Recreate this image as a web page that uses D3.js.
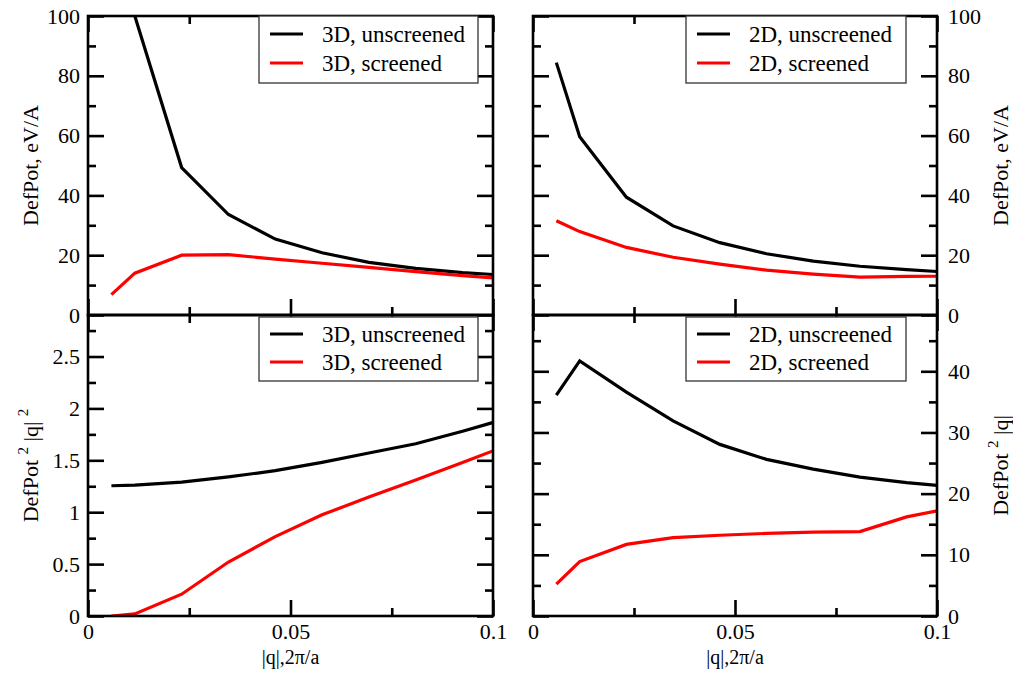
<!DOCTYPE html>
<html>
<head>
<meta charset="utf-8">
<script src="https://cdn.jsdelivr.net/npm/d3@7"></script>
<style>
  html, body { margin: 0; padding: 0; background: #fff; }
  svg { display: block; }
  text { font-family: "Liberation Serif", "Times New Roman", serif; fill: #000; }
</style>
</head>
<body>
<svg id="chart" width="1013" height="675"></svg>
<script>
// ---------------- data ----------------
const qValues = [0.00578, 0.01156, 0.02312, 0.03468, 0.04624, 0.0578, 0.06936, 0.08092, 0.09248, 0.10404];

const defPot3DUnscreened = [null, 100, 49.3, 33.6, 25.4, 20.8, 17.6, 15.6, 14.2, 13.2];
const defPot3DScreened   = [6.8, 14.0, 20.0, 20.2, 18.7, 17.3, 15.9, 14.5, 13.2, 12.0];
const defPot2DUnscreened = [84.4, 59.6, 39.4, 29.8, 24.2, 20.5, 18.0, 16.3, 15.2, 14.2];
const defPot2DScreened   = [31.5, 27.9, 22.6, 19.3, 17.0, 15.0, 13.7, 12.7, 12.9, 13.0];

const dp2q2_3DUnscreened = [1.255, 1.26, 1.29, 1.34, 1.40, 1.48, 1.57, 1.66, 1.78, 1.91];
const dp2q2_3DScreened   = [0.0, 0.02, 0.21, 0.52, 0.765, 0.975, 1.146, 1.31, 1.48, 1.65];
const dp2q_2DUnscreened  = [36.1, 41.7, 36.6, 31.9, 28.05, 25.6, 24.0, 22.7, 21.8, 21.1];
const dp2q_2DScreened    = [5.2, 8.9, 11.7, 12.8, 13.2, 13.5, 13.7, 13.8, 16.2, 17.7];

const xMajorTicks = [0, 0.05, 0.1];
const xMinorTicks = [0.025, 0.075];
const xTickLabels = ["0", "0.05", "0.1"];

const defPotMajorTicks = [0, 20, 40, 60, 80, 100];
const defPotMinorTicks = [10, 30, 50, 70, 90];
const defPotTickLabels = ["0", "20", "40", "60", "80", "100"];

const q2MajorTicks = [0, 0.5, 1, 1.5, 2, 2.5];
const q2MinorTicks = [0.25, 0.75, 1.25, 1.75, 2.25, 2.75];
const q2TickLabels = ["0", "0.5", "1", "1.5", "2", "2.5"];

const q1MajorTicks = [0, 10, 20, 30, 40];
const q1MinorTicks = [5, 15, 25, 35, 45];
const q1TickLabels = ["0", "10", "20", "30", "40"];

const legend3D = ["3D, unscreened", "3D, screened"];
const legend2D = ["2D, unscreened", "2D, screened"];
const seriesColors = ["#000000", "#ff0000"];

// ---------------- layout ----------------
const svg = d3.select("#chart");
svg.append("rect").attr("width", 1013).attr("height", 675).attr("fill", "#fff");

const LX = [88, 493], RX = [533, 937];
const TY = [16, 315], BY = [315, 616];

const panels = [
  { id: "tl", xr: LX, yr: TY, yDomain: [0, 100], yMaj: defPotMajorTicks, yMin: defPotMinorTicks, yLab: defPotTickLabels,
    side: "left", series: [defPot3DUnscreened, defPot3DScreened], legend: legend3D, xLabels: false,
    title: [["DefPot, eV/A", 0]], legendBox: [259, 16, 219, 67], legendRows: [34, 63] },
  { id: "tr", xr: RX, yr: TY, yDomain: [0, 100], yMaj: defPotMajorTicks, yMin: defPotMinorTicks, yLab: defPotTickLabels,
    side: "right", series: [defPot2DUnscreened, defPot2DScreened], legend: legend2D, xLabels: false,
    title: [["DefPot, eV/A", 0]], legendBox: [686, 16, 220, 67], legendRows: [34, 63] },
  { id: "bl", xr: LX, yr: BY, yDomain: [0, 2.9], yMaj: q2MajorTicks, yMin: q2MinorTicks, yLab: q2TickLabels,
    side: "left", series: [dp2q2_3DUnscreened, dp2q2_3DScreened], legend: legend3D, xLabels: true,
    title: [["DefPot ", 0], ["2", 1], [" |q| ", 0], ["2", 1]], legendBox: [259, 317, 219, 64], legendRows: [334, 362] },
  { id: "br", xr: RX, yr: BY, yDomain: [0, 49.2], yMaj: q1MajorTicks, yMin: q1MinorTicks, yLab: q1TickLabels,
    side: "right", series: [dp2q_2DUnscreened, dp2q_2DScreened], legend: legend2D, xLabels: true,
    title: [["DefPot ", 0], ["2", 1], [" |q|", 0]], legendBox: [686, 317, 220, 64], legendRows: [334, 362] }
];

const AXW = 2.6;
const MAJ = 16, MIN = 8;

panels.forEach(p => {
  const x = d3.scaleLinear().domain([0, 0.1]).range(p.xr);
  const y = d3.scaleLinear().domain(p.yDomain).range([p.yr[1], p.yr[0]]);
  const g = svg.append("g");

  svg.append("clipPath").attr("id", "clip-" + p.id)
    .append("rect").attr("x", p.xr[0]).attr("y", p.yr[0])
    .attr("width", p.xr[1] - p.xr[0]).attr("height", p.yr[1] - p.yr[0]);

  const line = d3.line()
    .defined(d => d[1] !== null)
    .x(d => x(d[0])).y(d => y(d[1]));
  p.series.forEach((s, i) => {
    g.append("path")
      .datum(qValues.map((q, k) => [q, s[k]]))
      .attr("clip-path", "url(#clip-" + p.id + ")")
      .attr("fill", "none")
      .attr("stroke", seriesColors[i])
      .attr("stroke-width", 3.2)
      .attr("d", line);
  });

  function styleAxis(sel, fontSize) {
    sel.select(".domain").remove();
    sel.attr("font-family", null);
    sel.selectAll(".tick line").attr("stroke", "#000").attr("stroke-width", AXW);
    sel.selectAll(".tick text").attr("font-size", fontSize).attr("fill", "#000");
  }

  const yLabelAxis = (p.side === "left" ? d3.axisLeft(y) : d3.axisRight(y))
    .tickValues(p.yMaj).tickSize(-MAJ).tickSizeOuter(0).tickPadding(p.side === "left" ? 8 : 11)
    .tickFormat((d, i) => p.yLab[i]);
  const yOtherAxis = (p.side === "left" ? d3.axisRight(y) : d3.axisLeft(y))
    .tickValues(p.yMaj).tickSize(-MAJ).tickSizeOuter(0).tickFormat("");
  const xLab = p.side === "left" ? p.xr[0] : p.xr[1];
  const xOth = p.side === "left" ? p.xr[1] : p.xr[0];
  g.append("g").attr("transform", `translate(${xLab},0)`).call(yLabelAxis).call(s => styleAxis(s, 22));
  g.append("g").attr("transform", `translate(${xOth},0)`).call(yOtherAxis).call(s => styleAxis(s, 22));
  [[xLab, p.side === "left" ? d3.axisLeft : d3.axisRight], [xOth, p.side === "left" ? d3.axisRight : d3.axisLeft]]
    .forEach(([xx, fn]) => {
      g.append("g").attr("transform", `translate(${xx},0)`)
        .call(fn(y).tickValues(p.yMin).tickSize(-MIN).tickSizeOuter(0).tickFormat(""))
        .call(s => styleAxis(s, 22));
    });

  const xb = d3.axisBottom(x).tickValues(xMajorTicks).tickSize(-MAJ).tickSizeOuter(0).tickPadding(7)
    .tickFormat((d, i) => p.xLabels ? xTickLabels[i] : "");
  g.append("g").attr("transform", `translate(0,${p.yr[1]})`).call(xb).call(s => styleAxis(s, 22));
  g.append("g").attr("transform", `translate(0,${p.yr[1]})`)
    .call(d3.axisBottom(x).tickValues(xMinorTicks).tickSize(-MIN).tickSizeOuter(0).tickFormat(""))
    .call(s => styleAxis(s, 22));
  g.append("g").attr("transform", `translate(0,${p.yr[0]})`)
    .call(d3.axisTop(x).tickValues(xMajorTicks).tickSize(-MAJ).tickSizeOuter(0).tickFormat(""))
    .call(s => styleAxis(s, 22));
  g.append("g").attr("transform", `translate(0,${p.yr[0]})`)
    .call(d3.axisTop(x).tickValues(xMinorTicks).tickSize(-MIN).tickSizeOuter(0).tickFormat(""))
    .call(s => styleAxis(s, 22));

  g.append("rect").attr("x", p.xr[0]).attr("y", p.yr[0])
    .attr("width", p.xr[1] - p.xr[0]).attr("height", p.yr[1] - p.yr[0])
    .attr("fill", "none").attr("stroke", "#000").attr("stroke-width", AXW);

  // y title
  const tx = p.side === "left" ? 30 : 1000;
  const ty = (p.yr[0] + p.yr[1]) / 2;
  const t = g.append("text")
    .attr("transform", `translate(${tx},${ty}) rotate(-90)`)
    .attr("text-anchor", "middle")
    .attr("dy", "0.35em")
    .attr("font-size", 22)
    .style("white-space", "pre");
  let sup = false;
  p.title.forEach(([str, isSup]) => {
    const ts = t.append("tspan").text(str);
    if (isSup && !sup) { ts.attr("dy", -10).attr("font-size", 15); sup = true; }
    else if (!isSup && sup) { ts.attr("dy", 10); sup = false; }
  });

  if (p.xLabels) {
    g.append("text")
      .attr("x", (p.xr[0] + p.xr[1]) / 2).attr("y", 664)
      .attr("text-anchor", "middle").attr("font-size", 20)
      .text("|q|,2\u03c0/a");
  }

  const [bx, by, bw, bh] = p.legendBox;
  const lg = g.append("g");
  lg.append("rect").attr("x", bx).attr("y", by).attr("width", bw).attr("height", bh)
    .attr("fill", "#fff").attr("stroke", "#333").attr("stroke-width", 1.3);
  p.legend.forEach((lab, i) => {
    const ly = p.legendRows[i];
    lg.append("line").attr("x1", bx + 11).attr("x2", bx + 44).attr("y1", ly).attr("y2", ly)
      .attr("stroke", seriesColors[i]).attr("stroke-width", 3.2);
    lg.append("text").attr("x", bx + 63).attr("y", ly).attr("dy", "0.33em")
      .attr("font-size", 23).text(lab);
  });
});
</script>
</body>
</html>
